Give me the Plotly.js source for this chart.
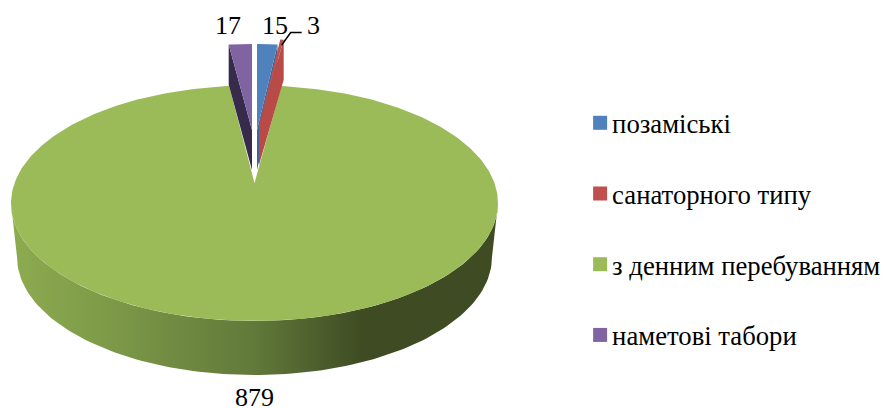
<!DOCTYPE html>
<html>
<head>
<meta charset="utf-8">
<script src="https://cdn.plot.ly/plotly-3.0.1.min.js"></script>
<style>html,body{margin:0;padding:0;background:#fff}#chart{width:884px;height:408px}</style>
</head>
<body>
<div id="chart"></div>
<script>
const categories = ["позаміські", "санаторного типу", "з денним перебуванням", "наметові табори"];
const values = [15, 3, 879, 17];
const colors = ["#4f81bd", "#c0504d", "#9bbb59", "#8064a2"];
const wallColors = ["#3b6797", "#b84a47", "#5f7a36", "#372b4c"];

// Drawing frame for the tilted pie: axes run in picture units.
const disc = {cx: 254.5, cy: 203, rx: 243.5, ry: 118, apexY: 183, baseCy: 257, baseRx: 237.5, baseRy: 118, taper: 0.14};
const pulled = {rx: 200, ry: 86, depth: 40, apex: {0: [257, 130], 1: [259, 125], 3: [252, 130]}};

const total = values.reduce((a, b) => a + b, 0);
const angles = [];
let run = 0;
values.forEach(v => { angles.push([run / total * 2 * Math.PI, (run + v) / total * 2 * Math.PI]); run += v; });

function arc(cx, cy, rx, ry, a0, a1, n, taper) {
  const xs = [], ys = [];
  for (let i = 0; i <= n; i++) {
    const a = a0 + (a1 - a0) * i / n;
    const c = Math.cos(a);
    // far edge of the tilted disc looks slightly narrower
    const k = taper && c > 0 ? 1 - taper * Math.pow(c, 40) : 1;
    xs.push(cx + rx * k * Math.sin(a));
    ys.push(cy - ry * c);
  }
  return [xs, ys];
}
function poly(xs, ys, color, extra) {
  return Object.assign({type: "scatter", mode: "lines", x: xs, y: ys, fill: "toself", fillcolor: color,
    line: {width: 0, color: color}, hoverinfo: "skip", showlegend: false}, extra || {});
}

const traces = [];

// side wall of the large slice (front half only)
const [tx, ty] = arc(disc.cx, disc.cy, disc.rx, disc.ry, Math.PI * 1.5, Math.PI * 0.5, 120);
const [bx, by] = arc(disc.cx, disc.baseCy, disc.baseRx, disc.baseRy, Math.PI * 0.5, Math.PI * 1.5, 120);
traces.push(poly(tx.concat(bx), ty.concat(by), "#6b8540", {
  fillgradient: {type: "horizontal", colorscale: [
    [0, "#8dab50"], [0.2, "#7d9a48"], [0.5, "#61793a"], [0.72, "#3f4c23"], [1, "#3f4c23"]
  ]}
}));

// top face of the large slice, with the notch left by the pulled slices
const [gx, gy] = arc(disc.cx, disc.cy, disc.rx, disc.ry, angles[2][0], angles[2][1], 360, disc.taper);
traces.push(poly([disc.cx].concat(gx, [disc.cx]), [disc.apexY].concat(gy, [disc.apexY]), colors[2]));

// pulled slices: radial wall first, then the top face
[3, 0, 1].forEach(i => {
  const [ax, ay] = pulled.apex[i];
  const [sx, sy] = arc(ax, ay, pulled.rx, pulled.ry, angles[i][0], angles[i][1], 12);
  const edge = i === 3 ? 0 : sx.length - 1;
  traces.push(poly([ax, sx[edge], sx[edge], ax, ax], [ay, sy[edge], sy[edge] + pulled.depth, ay + pulled.depth, ay], wallColors[i]));
  traces.push(poly([ax].concat(sx, [ax]), [ay].concat(sy, [ay]), colors[i]));
});

// leader line for the smallest slice
traces.push({type: "scatter", mode: "lines", x: [281.7, 290.7, 301.7], y: [45, 32.5, 32.5],
  line: {color: "#000", width: 1.5}, hoverinfo: "skip", showlegend: false});

// legend entries
categories.forEach((c, i) => traces.push({type: "scatter", mode: "markers", x: [null], y: [null], name: c,
  legendgroup: "g" + i, marker: {symbol: "square", size: 14, color: colors[i]}, hoverinfo: "skip"}));

const serif = "Liberation Serif, Times New Roman, serif";
const labelPos = [[275, 25], [313, 25], [254, 397], [228, 25]];
const annotations = values.map((v, i) => ({
  text: String(v), x: labelPos[i][0], y: labelPos[i][1], xref: "x", yref: "y", showarrow: false,
  font: {family: serif, size: 26, color: "#000"}, xanchor: "center", yanchor: "middle"
}));

const layout = {
  width: 884, height: 408, margin: {l: 0, r: 0, t: 0, b: 0, autoexpand: false},
  paper_bgcolor: "#fff", plot_bgcolor: "#fff",
  xaxis: {range: [0, 884], visible: false, fixedrange: true},
  yaxis: {range: [408, 0], visible: false, fixedrange: true},
  annotations: annotations,
  showlegend: true,
  legend: {x: 0.6472, y: 0.7575, xanchor: "left", yanchor: "top", tracegroupgap: 33,
    font: {family: serif, size: 26.7, color: "#000"}, bgcolor: "rgba(0,0,0,0)", itemclick: false, itemdoubleclick: false}
};

Plotly.newPlot("chart", traces, layout, {displayModeBar: false, staticPlot: true}).then(gd => {
  // bring the swatches closer to their labels
  gd.querySelectorAll(".legendsymbols").forEach(g => g.setAttribute("transform", "translate(8,0)"));
});
</script>
</body>
</html>
